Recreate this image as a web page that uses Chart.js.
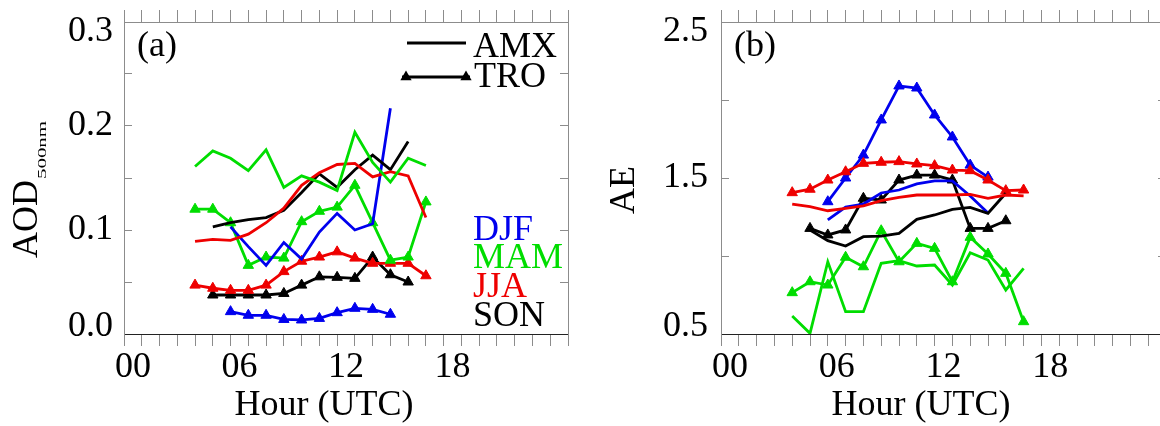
<!DOCTYPE html>
<html>
<head>
<meta charset="utf-8">
<script src="https://cdn.jsdelivr.net/npm/chart.js@4.4.0/dist/chart.umd.min.js"></script>
<style>
  html, body { margin: 0; padding: 0; background: #fff; }
  body { width: 1160px; height: 426px; overflow: hidden; position: relative; }
  .panel { position: absolute; top: 0; width: 590px; height: 426px; }
  #panelA { left: 0; }
  #panelB { left: 590px; }
</style>
</head>
<body>
<div class="panel" id="panelA"><canvas id="aod" width="590" height="426"></canvas></div>
<div class="panel" id="panelB"><canvas id="ae" width="590" height="426"></canvas></div>
<script>
(function () {
    "use strict";

    // hourly bins (UTC), plotted at the bin centre
    const hours = [3.5, 4.5, 5.5, 6.5, 7.5, 8.5, 9.5, 10.5, 11.5, 12.5, 13.5, 14.5, 15.5, 16.5];
    const hourLabels = [0, 6, 12, 18];
    const aodTickLabels = [0.0, 0.1, 0.2, 0.3];
    const aeTickLabels = [0.5, 1.5, 2.5];

    const seasons = ["DJF", "MAM", "JJA", "SON"];

    // (a) AOD 500nm
    const aodDjfAmx = [null, null, 0.103, 0.084, 0.066, 0.088, 0.072, 0.098, 0.116, 0.100, 0.106, 0.217, null, null];
    const aodDjfTro = [null, null, 0.0215, 0.018, 0.018, 0.014, 0.0135, 0.015, 0.0205, 0.0247, 0.0237, 0.019, null, null];
    const aodMamAmx = [0.161, 0.176, 0.169, 0.157, 0.177, 0.141, 0.152, 0.146, 0.138, 0.194, 0.165, 0.146, 0.169, 0.162];
    const aodMamTro = [0.120, 0.120, 0.107, 0.066, 0.074, 0.073, 0.108, 0.118, 0.122, 0.143, 0.107, 0.071, 0.074, 0.127];
    const aodJjaAmx = [0.089, 0.091, 0.090, 0.096, 0.107, 0.121, 0.143, 0.155, 0.163, 0.164, 0.151, 0.156, 0.152, 0.112];
    const aodJjaTro = [0.047, 0.044, 0.042, 0.042, 0.047, 0.060, 0.070, 0.074, 0.079, 0.073, 0.068, 0.068, 0.068, 0.056];
    const aodSonAmx = [null, 0.103, 0.107, 0.110, 0.112, 0.119, 0.136, 0.154, 0.141, 0.158, 0.172, 0.158, 0.185, null];
    const aodSonTro = [null, 0.0375, 0.0375, 0.0375, 0.0375, 0.039, 0.047, 0.055, 0.0545, 0.0535, 0.074, 0.057, 0.050, null];

    // (b) Angstrom exponent
    const aeDjfAmx = [null, null, 1.231, 1.314, 1.333, 1.404, 1.423, 1.462, 1.481, 1.481, 1.385, 1.276, null, null];
    const aeDjfTro = [null, null, 1.348, 1.500, 1.647, 1.872, 2.090, 2.077, 1.904, 1.763, 1.583, 1.506, null, null];
    const aeMamAmx = [0.615, 0.504, 0.963, 0.643, 0.643, 0.953, 0.970, 0.936, 0.942, 0.814, 1.021, 0.974, 0.782, 0.921];
    const aeMamTro = [0.765, 0.835, 0.814, 0.992, 0.931, 1.162, 0.963, 1.081, 1.049, 0.835, 1.120, 1.013, 0.889, 0.579];
    const aeJjaAmx = [1.333, 1.316, 1.290, 1.306, 1.321, 1.355, 1.376, 1.391, 1.391, 1.391, 1.395, 1.370, 1.391, 1.385];
    const aeJjaTro = [1.406, 1.428, 1.487, 1.540, 1.594, 1.601, 1.605, 1.590, 1.579, 1.551, 1.547, 1.487, 1.419, 1.423];
    const aeSonAmx = [null, 1.167, 1.098, 1.064, 1.124, 1.128, 1.145, 1.235, 1.263, 1.299, 1.312, 1.274, 1.402, null];
    const aeSonTro = [null, 1.177, 1.135, 1.167, 1.370, 1.359, 1.487, 1.519, 1.519, 1.487, 1.177, 1.177, 1.226, null];

    const FONT = '"Liberation Serif", "Times New Roman", serif';
    const BLUE = "#0000ee";
    const GREEN = "#00dd00";
    const RED = "#ee0000";
    const BLACK = "#000000";
    const TICK = "#8c8c8c";
    const seasonColors = [BLUE, GREEN, RED, BLACK];

    Chart.defaults.font.family = FONT;

    const near = (a, b) => Math.abs(a - b) < 1e-6;

    function series(values, color, tro) {
        return {
            data: hours
                .map((h, i) => ({ x: h, y: values[i] }))
                .filter((p) => p.y !== null),
            borderColor: color,
            backgroundColor: color,
            borderWidth: 2.8,
            pointStyle: "triangle",
            pointRadius: tro ? 6 : 0,
            pointBorderWidth: 1,
            pointHoverRadius: 0,
            tension: 0,
        };
    }

    function triangle(ctx, x, y, r) {
        ctx.beginPath();
        ctx.moveTo(x, y - r);
        ctx.lineTo(x + r * 0.866, y + r / 2);
        ctx.lineTo(x - r * 0.866, y + r / 2);
        ctx.closePath();
        ctx.fill();
    }

    // fixed axis box sizes, no extra label padding
    function fixSize(prop, size) {
        return (axis) => {
            axis[prop] = size;
            axis.paddingTop = 0;
            axis.paddingBottom = 0;
            axis.paddingLeft = 0;
            axis.paddingRight = 0;
        };
    }

    // panel tag, axis titles and the key, placed from the chart area
    const figText = {
        id: "figText",
        afterDraw(chart, args, o) {
            const { ctx, chartArea: ca } = chart;
            ctx.save();
            ctx.fillStyle = "#000";
            ctx.font = "36px " + FONT;
            ctx.textBaseline = "alphabetic";

            ctx.textAlign = "left";
            ctx.fillText(o.tag, ca.left + 13, ca.top + 34);

            ctx.textAlign = "center";
            ctx.fillText("Hour (UTC)", ca.left + 200, 415);

            // rotated y title, optional stretched subscript
            ctx.save();
            ctx.translate(ca.left - 87, ca.top + 168);
            ctx.rotate(-Math.PI / 2);
            ctx.textAlign = "left";
            const w = ctx.measureText(o.yTitle).width;
            const subLen = o.ySub ? 58 : 0;
            const start = -(w + subLen) / 2;
            ctx.fillText(o.yTitle, start, 0);
            if (o.ySub) {
                ctx.font = "13px " + FONT;
                const sw = ctx.measureText(o.ySub).width;
                ctx.translate(start + w + 1, 9);
                ctx.scale(subLen / sw, 1);
                ctx.fillText(o.ySub, 0, 0);
            }
            ctx.restore();

            if (o.key) {
                const r = ca.right;
                ctx.strokeStyle = "#000";
                ctx.lineWidth = 2.8;
                ctx.beginPath();
                ctx.moveTo(r - 161, 43);
                ctx.lineTo(r - 102, 43);
                ctx.moveTo(r - 166, 77);
                ctx.lineTo(r - 98, 77);
                ctx.stroke();
                triangle(ctx, r - 162, 77, 6.5);
                triangle(ctx, r - 102, 77, 6.5);
                ctx.textAlign = "left";
                ctx.font = "36px " + FONT;
                ctx.fillText("AMX", r - 95, 57);
                ctx.fillText("TRO", r - 94, 87);
                const base = [240, 268, 297, 326];
                seasons.forEach((s, i) => {
                    ctx.fillStyle = seasonColors[i];
                    ctx.fillText(s, r - 95, base[i]);
                });
            }
            ctx.restore();
        },
    };

    function makeChart(canvas, cfg) {
        const edges = [];
        for (let k = 0; k <= 25; k++) edges.push(k - 0.5);
        const bottomTicks = edges.concat(hourLabels).sort((a, b) => a - b);
        const yTicks = [];
        for (let v = cfg.yMin; v <= cfg.yMax + 1e-9; v += cfg.yMinor) yTicks.push(+v.toFixed(4));
        const labelled = (v) => cfg.yLabels.some((l) => near(l, v));

        return new Chart(canvas.getContext("2d"), {
            type: "line",
            data: { datasets: cfg.datasets },
            options: {
                responsive: false,
                animation: false,
                devicePixelRatio: 1,
                layout: { padding: 0, autoPadding: false },
                plugins: {
                    legend: { display: false },
                    tooltip: { enabled: false },
                    figText: cfg.text,
                },
                scales: {
                    x: {
                        type: "linear",
                        position: "bottom",
                        min: -0.5,
                        max: 24.5,
                        afterBuildTicks: (axis) => {
                            axis.ticks = bottomTicks.map((v) => ({ value: v }));
                        },
                        afterFit: fixSize("height", 92),
                        border: { color: "#222", width: 1 },
                        grid: {
                            drawOnChartArea: false,
                            tickLength: 12,
                            tickWidth: 1,
                            tickColor: (c) =>
                                c.tick && hourLabels.includes(c.tick.value) ? "rgba(0,0,0,0)" : TICK,
                        },
                        ticks: {
                            autoSkip: false,
                            maxRotation: 0,
                            minRotation: 0,
                            padding: 4,
                            color: "#000",
                            font: { family: FONT, size: 36, lineHeight: 1 },
                            callback: (v) =>
                                hourLabels.includes(v) ? String(v).padStart(2, "0") : "",
                        },
                    },
                    xt: {
                        type: "linear",
                        position: "top",
                        min: -0.5,
                        max: 24.5,
                        afterBuildTicks: (axis) => {
                            axis.ticks = edges.map((v) => ({ value: v }));
                        },
                        afterFit: fixSize("height", 22),
                        border: { color: TICK, width: 1 },
                        grid: { drawOnChartArea: false, tickLength: 12, tickColor: TICK },
                        ticks: { display: false },
                    },
                    y: {
                        type: "linear",
                        position: "left",
                        min: cfg.yMin,
                        max: cfg.yMax,
                        afterBuildTicks: (axis) => {
                            axis.ticks = yTicks.map((v) => ({ value: v }));
                        },
                        afterFit: fixSize("width", cfg.leftWidth),
                        border: { color: TICK, width: 1 },
                        grid: { drawOnChartArea: false, tickLength: -8, tickColor: TICK },
                        ticks: {
                            padding: cfg.labelPad,
                            color: "#000",
                            font: (c) => ({
                                family: FONT,
                                size: 36,
                                lineHeight: c.tick && near(c.tick.value, cfg.yMax) ? "20px" : "14px",
                            }),
                            callback: (v) => {
                                if (!labelled(v)) return "";
                                const s = v.toFixed(1);
                                if (near(v, cfg.yMax)) return ["", s];
                                if (near(v, cfg.yMin)) return [s, ""];
                                return s;
                            },
                        },
                    },
                    yr: {
                        type: "linear",
                        position: "right",
                        min: cfg.yMin,
                        max: cfg.yMax,
                        afterBuildTicks: (axis) => {
                            axis.ticks = yTicks.map((v) => ({ value: v }));
                        },
                        afterFit: fixSize("width", cfg.rightWidth),
                        border: { color: TICK, width: 1 },
                        grid: { drawOnChartArea: false, tickLength: -8, tickColor: TICK },
                        ticks: { display: false },
                    },
                },
            },
            plugins: [figText],
        });
    }

    makeChart(document.getElementById("aod"), {
        yMin: 0,
        yMax: 0.3,
        yMinor: 0.05,
        yLabels: aodTickLabels,
        leftWidth: 124,
        rightWidth: 22,
        labelPad: 19,
        text: { tag: "(a)", yTitle: "AOD", ySub: "500nm", key: true },
        datasets: [
            series(aodMamAmx, GREEN, false),
            series(aodJjaAmx, RED, false),
            series(aodSonAmx, BLACK, false),
            series(aodDjfAmx, BLUE, false),
            series(aodMamTro, GREEN, true),
            series(aodJjaTro, RED, true),
            series(aodSonTro, BLACK, true),
            series(aodDjfTro, BLUE, true),
        ],
    });

    makeChart(document.getElementById("ae"), {
        yMin: 0.5,
        yMax: 2.5,
        yMinor: 0.5,
        yLabels: aeTickLabels,
        leftWidth: 131,
        rightWidth: 14,
        labelPad: 21,
        text: { tag: "(b)", yTitle: "AE", ySub: "", key: false },
        datasets: [
            series(aeMamAmx, GREEN, false),
            series(aeJjaAmx, RED, false),
            series(aeSonAmx, BLACK, false),
            series(aeDjfAmx, BLUE, false),
            series(aeMamTro, GREEN, true),
            series(aeJjaTro, RED, true),
            series(aeSonTro, BLACK, true),
            series(aeDjfTro, BLUE, true),
        ],
    });
})();
</script>
</body>
</html>
